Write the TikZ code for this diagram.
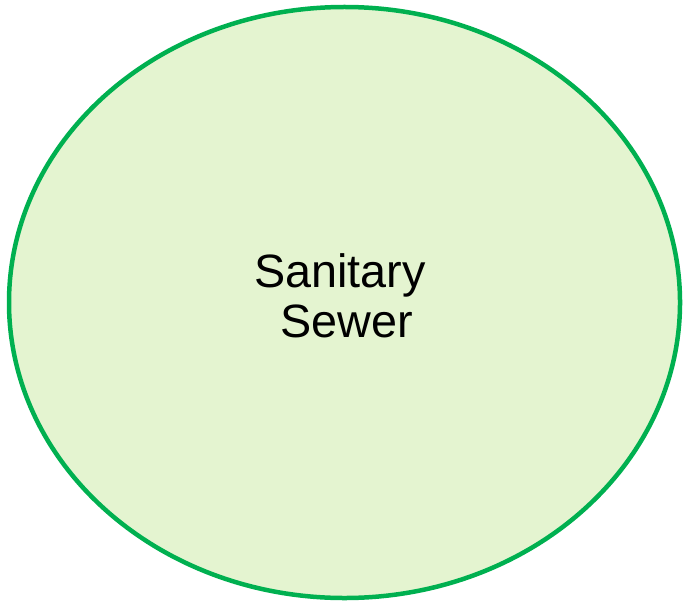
\documentclass[tikz,border=0pt]{standalone}
\usepackage{fontspec}
\setmainfont{Liberation Sans}
\usetikzlibrary{shapes.geometric}
\definecolor{sewerline}{RGB}{0,176,80}
\definecolor{sewerfill}{RGB}{228,244,208}

\begin{document}
\begin{tikzpicture}[
  area/.style={ellipse,draw=sewerline,fill=sewerfill,line width=0.045cm,inner sep=0pt,
    minimum width=6.71cm,minimum height=5.91cm},
  lbl/.style={align=center,inner sep=0pt,font=\fontsize{13.3pt}{14.2pt}\selectfont}]
  \useasboundingbox (0,0) rectangle (6.85,6.03);
  \node[area] (SW) at (3.445,3.005) {};
  \node[lbl] (SL) at (3.40,3.07) {Sanitary\\\mbox{}\ Sewer};
\end{tikzpicture}
\end{document}
